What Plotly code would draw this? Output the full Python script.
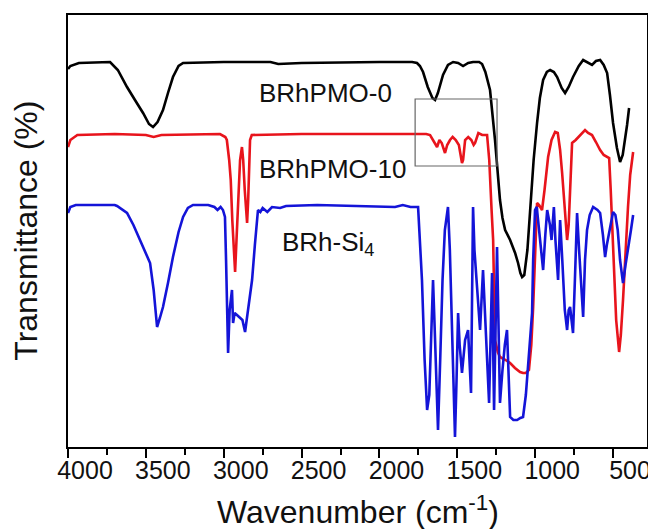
import plotly.graph_objects as go

# ---- data (wavenumber in cm^-1, transmittance in arbitrary units, curves offset) ----
wn_brhpmo0 = [4000, 3985, 3930, 3800, 3730, 3680, 3621, 3570, 3518, 3480, 3454, 3425, 3390, 3358, 3326,
              3290, 3261, 3000, 2700, 2650, 2500, 2000, 1790, 1759, 1740, 1720, 1690, 1660, 1643, 1625,
              1605, 1592, 1560, 1527, 1495, 1463, 1430, 1399, 1360, 1341, 1320, 1290, 1258, 1240, 1226,
              1210, 1193, 1161, 1145, 1129, 1110, 1095, 1084, 1070, 1050, 1033, 1010, 988, 970, 949,
              925, 904, 880, 859, 830, 808, 785, 757, 720, 692, 665, 635, 610, 583, 560, 538, 520, 500,
              475, 455, 438, 423, 410, 397]
t_brhpmo0 = [378, 381, 384, 385, 385, 377, 360, 347, 334, 323, 320, 325, 337, 354, 370,
             381, 384, 385, 385, 383, 384, 385, 385, 384, 381, 375, 360, 349, 347, 354,
             365, 372, 382, 385, 384, 381, 384, 385, 385, 383, 375, 357, 307, 275, 247,
             229, 217, 207, 201, 194, 184, 174, 170, 172, 197, 240, 287, 324, 349, 367,
             375, 377, 375, 370, 359, 354, 360, 370, 381, 387, 385, 382, 386, 387, 382, 374, 352, 324,
             299, 285, 292, 307, 322, 339]

wn_brhpmo10 = [4000, 3985, 3940, 3700, 3500, 3450, 3400, 3100, 3024, 2990, 2980, 2965, 2955, 2945, 2935,
               2927, 2918, 2905, 2895, 2883, 2875, 2865, 2856, 2850, 2843, 2835, 2831, 2820, 2500, 2000,
               1700, 1675, 1650, 1630, 1615, 1600, 1579, 1565, 1547, 1530, 1510, 1490, 1470, 1463, 1450,
               1430, 1410, 1395, 1386, 1365, 1340, 1309, 1295, 1290, 1280, 1270, 1258, 1240, 1226, 1190,
               1161, 1130, 1097, 1078, 1060, 1040, 1025, 1013, 1000, 988, 975, 956, 940, 917, 895,
               872, 855, 840, 827, 810, 795, 785, 776, 763, 740, 720, 700, 680, 660, 635,
               610, 583, 560, 538, 525, 515, 500, 480, 461, 450, 436, 420, 404, 390, 371]
t_brhpmo10 = [300, 307, 312, 313, 312, 310, 312, 313, 313, 310, 307, 287, 267, 227, 192,
              175, 207, 257, 287, 300, 287, 257, 232, 224, 247, 287, 307, 312, 313, 313,
              313, 312, 305, 300, 307, 304, 294, 302, 307, 310, 307, 302, 284, 287, 307,
              310, 307, 302, 304, 314, 312, 312, 287, 274, 237, 207, 107, 95, 90, 87,
              84, 79, 75, 74, 74, 77, 102, 140, 197, 244, 242, 237, 257, 290, 307,
              315, 314, 297, 274, 237, 207, 222, 250, 304, 307, 310, 314, 317, 314, 312,
              305, 297, 292, 290, 289, 257, 207, 127, 95, 112, 147, 197, 240, 272, 295]

wn_brhsi4 = [4000, 3985, 3950, 3700, 3685, 3650, 3621, 3580, 3538, 3500, 3473, 3450, 3428, 3410, 3390,
             3358, 3326, 3290, 3261, 3230, 3197, 3100, 3060, 3040, 3020, 3005, 2992, 2985, 2972, 2962,
             2947, 2940, 2930, 2915, 2900, 2880, 2863, 2845, 2818, 2800, 2780, 2765, 2750, 2720, 2690,
             2638, 2600, 2400, 2000, 1900, 1850, 1800, 1752, 1740, 1727, 1710, 1694, 1680, 1670, 1656,
             1645, 1635, 1624, 1610, 1595, 1580, 1560, 1548, 1535, 1515, 1505, 1495, 1485, 1470, 1450,
             1431, 1412, 1405, 1399, 1390, 1375, 1354, 1335, 1322, 1310, 1296, 1277, 1264, 1245, 1235,
             1226, 1210, 1195, 1181, 1170, 1161, 1140, 1116, 1095, 1078, 1060, 1046, 1030, 1020, 1013,
             1001, 990, 975, 960, 949, 935, 923, 905, 895, 880, 870, 853, 840, 826, 810,
             795, 785, 776, 765, 757, 745, 731, 718, 705, 692, 680, 667, 650, 628, 600,
             583, 565, 551, 540, 520, 500, 485, 470, 455, 436, 420, 400, 385, 371]
t_brhsi4 = [234, 240, 242, 242, 241, 237, 234, 222, 207, 195, 184, 157, 120, 129, 140,
            164, 190, 215, 230, 239, 242, 242, 240, 237, 240, 237, 230, 187, 94, 137,
            157, 124, 134, 132, 130, 127, 115, 137, 167, 202, 237, 235, 239, 235, 240,
            239, 241, 242, 241, 240, 242, 240, 240, 207, 167, 87, 37, 52, 107, 167,
            117, 57, 17, 87, 167, 217, 240, 197, 117, 10, 67, 134, 102, 74, 107,
            117, 54, 147, 240, 197, 167, 117, 177, 137, 100, 44, 174, 37, 200, 117,
            44, 77, 102, 117, 57, 30, 27, 27, 29, 30, 52, 84, 117, 134, 187,
            237, 240, 217, 187, 177, 212, 237, 222, 207, 240, 207, 167, 227, 187, 137,
            117, 137, 140, 127, 114, 167, 234, 197, 157, 130, 187, 217, 232, 240, 237,
            234, 212, 190, 202, 217, 235, 232, 217, 187, 164, 182, 200, 217, 232]

x_tick_vals = [4000, 3500, 3000, 2500, 2000, 1500, 1000, 500]
x_tick_text = ["4000", "3500", "3000", "2500", "2000", "1500", "1000", "500"]
x_minor_vals = [3750, 3250, 2750, 2250, 1750, 1250, 750]

labels = ["BRhPMO-0", "BRhPMO-10", "BRh-Si<sub>4</sub>"]
colors = ["#000000", "#e8141c", "#1414d8"]

FONT = "Liberation Sans, Arial, Helvetica, sans-serif"

fig = go.Figure()
for wn, t, name, c in [(wn_brhpmo0, t_brhpmo0, labels[0], colors[0]),
                       (wn_brhpmo10, t_brhpmo10, labels[1], colors[1]),
                       (wn_brhsi4, t_brhsi4, labels[2], colors[2])]:
    fig.add_trace(go.Scatter(x=wn, y=t, mode="lines", name=name,
                             line=dict(color=c, width=2.6)))

# inset box around the 1800-1250 region of BRhPMO-10
fig.add_shape(type="rect", xref="x", yref="y", x0=1771, x1=1245, y0=281, y1=348,
              line=dict(color="#666666", width=1.2), fillcolor="rgba(0,0,0,0)")

ann_font = dict(family=FONT, size=26, color="#111111")
title_font = dict(family=FONT, size=32, color="#111111")
fig.add_annotation(x=2786, y=354, xref="x", yref="y", text=labels[0], showarrow=False,
                   xanchor="left", yanchor="middle", font=ann_font)
fig.add_annotation(x=2786, y=278, xref="x", yref="y", text=labels[1], showarrow=False,
                   xanchor="left", yanchor="middle", font=ann_font)
fig.add_annotation(x=2640, y=204, xref="x", yref="y", text=labels[2], showarrow=False,
                   xanchor="left", yanchor="middle", font=ann_font)
# axis titles
fig.add_annotation(x=-0.073, y=0.5, xref="paper", yref="paper", text="Transmittance (%)",
                   textangle=-90, showarrow=False, xanchor="center", yanchor="middle",
                   font=title_font)
fig.add_annotation(x=0.5, y=-0.145, xref="paper", yref="paper", text="Wavenumber (cm<sup>-1</sup>)",
                   showarrow=False, xanchor="center", yanchor="middle", font=title_font)

# the page body adds an 8px offset, so the figure is sized to fit the window
fig.update_layout(
    width=648, height=521,
    margin=dict(l=60, r=9, t=7, b=82, autoexpand=False),
    paper_bgcolor="white", plot_bgcolor="white",
    showlegend=False,
    font=dict(family=FONT, color="#111111"),
)
fig.update_xaxes(
    range=[4000, 282], showgrid=False, zeroline=False, automargin=False,
    showline=True, linecolor="black", linewidth=2, mirror=True,
    ticks="outside", ticklen=9, tickwidth=2, tickcolor="black",
    tickmode="array", tickvals=x_tick_vals, ticktext=x_tick_text,
    minor=dict(ticks="outside", ticklen=6, tickwidth=2, tickcolor="black", tickvals=x_minor_vals),
    tickfont=dict(family=FONT, size=25, color="#111111"),
    ticklabelshift=-17, ticklabelstandoff=-9,
)
fig.update_yaxes(
    range=[0, 432], showgrid=False, zeroline=False, automargin=False,
    showline=True, linecolor="black", linewidth=2, mirror=True,
    ticks="", showticklabels=False,
)

fig.write_html("out.html")
